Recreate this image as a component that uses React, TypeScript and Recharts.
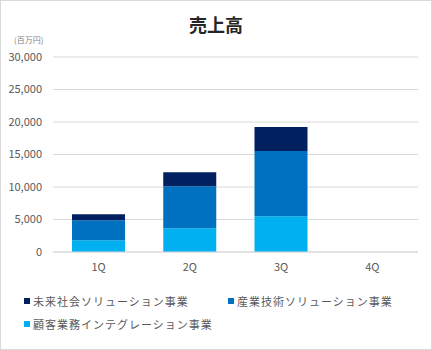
import { BarChart, Bar, XAxis, YAxis, CartesianGrid } from 'recharts'

const quarters = ['1Q', '2Q', '3Q', '4Q']
const kokyaku = [1800, 3650, 5490, null]
const sangyo = [3080, 6460, 10050, null]
const mirai = [920, 2160, 3690, null]
const yTicks = [0, 5000, 10000, 15000, 20000, 25000, 30000]

const seriesInfo = [
  { key: 'kokyaku', name: '顧客業務インテグレーション事業', color: '#00B0F0', values: kokyaku },
  { key: 'sangyo', name: '産業技術ソリューション事業', color: '#0070C0', values: sangyo },
  { key: 'mirai', name: '未来社会ソリューション事業', color: '#002060', values: mirai },
]

// legend order as drawn in the picture
const legendOrder = ['mirai', 'sangyo', 'kokyaku']

const data = quarters.map((q, i) => ({
  name: q,
  kokyaku: kokyaku[i],
  sangyo: sangyo[i],
  mirai: mirai[i],
}))

const font = '"Noto Sans CJK JP", "Noto Sans", sans-serif'
const textGray = '#595959'

function ChartLegend() {
  return (
    <div style={{ position: 'absolute', left: 23, top: 288, display: 'flex', flexWrap: 'wrap', width: 420 }}>
      {legendOrder.map((k) => {
        const s = seriesInfo.find((x) => x.key === k)!
        return (
          <div
            key={k}
            style={{ width: 204, height: 23, display: 'flex', alignItems: 'center', color: textGray, fontSize: 11, letterSpacing: 1 }}
          >
            <span style={{ display: 'inline-block', width: 6, height: 6, background: s.color, marginRight: 3 }} />
            <span>{s.name}</span>
          </div>
        )
      })}
    </div>
  )
}

export default function App() {
  return (
    <div
      style={{
        position: 'absolute', left: 0, top: 0, width: 430, height: 348,
        border: '1px solid #D9D9D9', background: '#fff', fontFamily: font,
      }}
    >
      <div style={{ position: 'absolute', left: -1, top: -1 }}>
        <BarChart width={432} height={350} data={data} margin={{ top: 57, right: 14, left: 8, bottom: 68 }} barCategoryGap={19}>
          <CartesianGrid vertical={false} stroke="#D9D9D9" />
          <XAxis
            dataKey="name"
            axisLine={{ stroke: '#D9D9D9' }}
            tickLine={false}
            tickMargin={5}
            height={30}
            tick={{ fill: textGray, fontSize: 11, fontFamily: font }}
          />
          <YAxis
            width={45}
            domain={[0, 30000]}
            ticks={yTicks}
            axisLine={false}
            tickLine={false}
            tickMargin={5}
            tickFormatter={(v: number) => v.toLocaleString('en-US')}
            tick={{ fill: textGray, fontSize: 11, fontFamily: font }}
          />
          {seriesInfo.map((s) => (
            <Bar key={s.key} dataKey={s.key} name={s.name} stackId="a" fill={s.color} isAnimationActive={false} />
          ))}
        </BarChart>
      </div>
      <div
        style={{
          position: 'absolute', left: 0, width: 430, top: 10, textAlign: 'center',
          fontSize: 18, fontWeight: 'bold', color: '#262626',
        }}
      >
        売上高
      </div>
      <div style={{ position: 'absolute', left: 13, top: 33, fontSize: 8, color: '#7f7f7f' }}>
        (百万円)
      </div>
      <ChartLegend />
    </div>
  )
}
